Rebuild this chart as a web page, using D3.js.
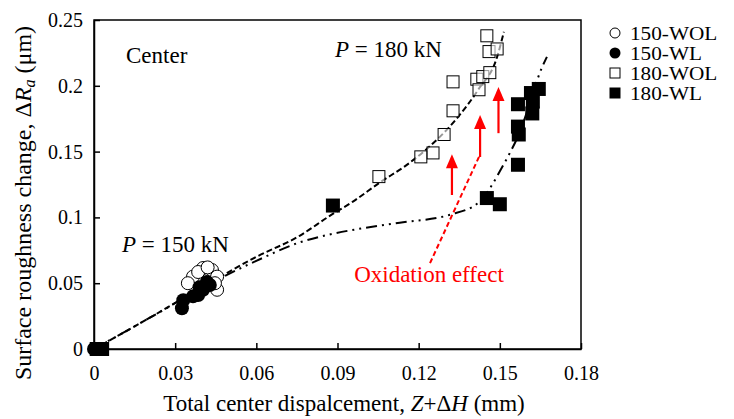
<!DOCTYPE html>
<html><head><meta charset="utf-8">
<script src="https://cdn.jsdelivr.net/npm/d3@7"></script>
<style>body{margin:0;background:#fff}svg{display:block}text{font-family:"Liberation Serif","Times New Roman",serif}</style>
</head><body><svg id="c" width="734" height="419"></svg>
<script>
const xTicks=[0,0.03,0.06,0.09,0.12,0.15,0.18];
const yTicks=[0,0.05,0.1,0.15,0.2,0.25];
const yTickLabels=["0","0.05","0.1","0.15","0.2","0.25"];
const seriesNames=["150-WOL","150-WL","180-WOL","180-WL"];
const wol150=[[0.0366,0.055],[0.0403,0.0615],[0.0436,0.060],[0.0455,0.055],[0.0347,0.050],[0.0455,0.045],[0.0447,0.050],[0.0385,0.0585],[0.042,0.062],[0.001,0],[0.002,0]];
const wl150=[[0.0325,0.031],[0.033,0.037],[0.0366,0.040],[0.039,0.047],[0.0417,0.051],[0.0403,0.045],[0.0428,0.0486],[0.0385,0.041],[0,0],[0.002,0]];
const wol180=[[0.1452,0.238],[0.146,0.226],[0.149,0.228],[0.1327,0.203],[0.1415,0.205],[0.1437,0.207],[0.1463,0.210],[0.1423,0.197],[0.1327,0.181],[0.1294,0.163],[0.1253,0.149],[0.1208,0.146],[0.1053,0.131],[0.001,0],[0.003,0]];
const wl180=[[0.1567,0.186],[0.1615,0.1945],[0.1644,0.1976],[0.1622,0.188],[0.162,0.179],[0.1567,0.169],[0.157,0.163],[0.1567,0.140],[0.1452,0.1147],[0.150,0.110],[0.0883,0.109],[0.001,0],[0.003,0]];
const fitWOL180=[[0,0],[0.02,0.023],[0.04,0.047],[0.06,0.07],[0.076,0.086],[0.087,0.101],[0.0957,0.112],[0.106,0.127],[0.115,0.139],[0.123,0.152],[0.134,0.175],[0.142,0.197],[0.149,0.222],[0.1515,0.241]];
const fitWL180=[[0,0],[0.02,0.023],[0.044,0.051],[0.06,0.067],[0.076,0.081],[0.087,0.087],[0.1,0.092],[0.113,0.096],[0.1316,0.102],[0.1426,0.112],[0.1463,0.122],[0.150,0.135],[0.1537,0.149],[0.157,0.163],[0.161,0.186],[0.1648,0.210],[0.1674,0.222]];
const oxLine=[[0.1242,0.0653],[0.1423,0.146]];
const arrows=[[0.1323,0.117,0.148],[0.1427,0.1459,0.1778],[0.1495,0.164,0.199]];

const svg=d3.select("#c");
const L=94,R=581,T=20,B=349;
const x=d3.scaleLinear().domain([0,0.18]).range([L,R]);
const y=d3.scaleLinear().domain([0,0.25]).range([B,T]);

svg.append("rect").attr("x",L).attr("y",T).attr("width",R-L).attr("height",B-T).attr("fill","none").attr("stroke","#000").attr("stroke-width",1.5);

const xa=svg.append("g").attr("transform",`translate(0,${B})`)
 .call(d3.axisBottom(x).tickValues(xTicks).tickFormat(d=>d===0?"0":d3.format(".2f")(d)).tickSizeInner(-6).tickSizeOuter(0).tickPadding(17));
const ya=svg.append("g").attr("transform",`translate(${L},0)`)
 .call(d3.axisLeft(y).tickValues(yTicks).tickFormat((d,i)=>yTickLabels[i]).tickSizeInner(-6).tickSizeOuter(0).tickPadding(11));
[xa,ya].forEach(a=>{a.select(".domain").attr("stroke-width",1.5);a.selectAll("line").attr("stroke-width",1.5);a.selectAll("text").attr("font-size",20).attr("fill","#000").style("font-family",'"Liberation Serif",serif');});

const line=d3.line().x(d=>x(d[0])).y(d=>y(d[1])).curve(d3.curveMonotoneX);
svg.append("path").attr("d",line(fitWOL180)).attr("fill","none").attr("stroke","#000").attr("stroke-width",2).attr("stroke-dasharray","6,3");
svg.append("path").attr("d",line(fitWL180)).attr("fill","none").attr("stroke","#000").attr("stroke-width",2).attr("stroke-dasharray","11,5,2,5,2,5");

const sq=12;
svg.append("g").selectAll("rect").data(wol180).join("rect")
 .attr("x",d=>x(d[0])-sq/2).attr("y",d=>y(d[1])-sq/2).attr("width",sq).attr("height",sq)
 .attr("fill","#fff").attr("fill-opacity",0.6).attr("stroke","#000").attr("stroke-width",1);
svg.append("g").selectAll("circle").data(wol150).join("circle")
 .attr("cx",d=>x(d[0])).attr("cy",d=>y(d[1])).attr("r",6.5).attr("fill","#fff").attr("stroke","#000").attr("stroke-width",1);
svg.append("g").selectAll("circle").data(wl150).join("circle")
 .attr("cx",d=>x(d[0])).attr("cy",d=>y(d[1])).attr("r",7).attr("fill","#000");
svg.append("g").selectAll("rect").data(wl180).join("rect")
 .attr("x",d=>x(d[0])-7).attr("y",d=>y(d[1])-7).attr("width",14).attr("height",14).attr("fill","#000");

svg.append("path").attr("d",d3.line().x(d=>x(d[0])).y(d=>y(d[1]))(oxLine)).attr("stroke","#f00").attr("stroke-width",2).attr("stroke-dasharray","5,3").attr("fill","none");
const ag=svg.append("g");
arrows.forEach(a=>{
  const ax=x(a[0]),y0=y(a[1]),y1=y(a[2]);
  ag.append("line").attr("x1",ax).attr("x2",ax).attr("y1",y0).attr("y2",y1+12).attr("stroke","#f00").attr("stroke-width",2.2);
  ag.append("path").attr("d",`M${ax},${y1}L${ax-6},${y1+14}L${ax+6},${y1+14}Z`).attr("fill","#f00");
});
svg.append("text").attr("x",429).attr("y",282).attr("text-anchor","middle").attr("font-size",23).attr("fill","#f00").text("Oxidation effect");

svg.append("text").attr("x",126).attr("y",63).attr("font-size",23).text("Center");
function pLabel(xp,yp,val){
  const t=svg.append("text").attr("x",xp).attr("y",yp).attr("font-size",23);
  t.append("tspan").attr("font-style","italic").text("P");
  t.append("tspan").text(" = "+val+" kN");
}
pLabel(335,57,"180");
pLabel(122,252,"150");

const xt=svg.append("text").attr("x",344).attr("y",411).attr("text-anchor","middle").attr("font-size",23);
xt.append("tspan").text("Total center dispalcement, ");
xt.append("tspan").attr("font-style","italic").text("Z");
xt.append("tspan").text("+Δ");
xt.append("tspan").attr("font-style","italic").text("H");
xt.append("tspan").text(" (mm)");
const yt=svg.append("text").attr("transform","translate(31,203) rotate(-90)").attr("text-anchor","middle").attr("font-size",24);
yt.append("tspan").text("Surface roughness change, Δ");
yt.append("tspan").attr("font-style","italic").text("R");
yt.append("tspan").attr("font-style","italic").attr("font-size",16).attr("dy",4).text("a");
yt.append("tspan").attr("dy",-4).text(" (μm)");

const lg=svg.append("g");
const rows=[33,53,73,93];
seriesNames.forEach((n,i)=>{
  const cy=rows[i],cx=615;
  if(i===0) lg.append("circle").attr("cx",cx).attr("cy",cy).attr("r",5).attr("fill","#fff").attr("stroke","#000");
  if(i===1) lg.append("circle").attr("cx",cx).attr("cy",cy).attr("r",5.5).attr("fill","#000");
  if(i===2) lg.append("rect").attr("x",cx-5).attr("y",cy-5).attr("width",10).attr("height",10).attr("fill","#fff").attr("stroke","#000");
  if(i===3) lg.append("rect").attr("x",cx-5.5).attr("y",cy-5.5).attr("width",11).attr("height",11).attr("fill","#000");
  const t=lg.append("text").attr("x",630).attr("y",cy+6.5).attr("font-size",18).text(n);
  const w=t.node().getComputedTextLength();
  t.attr("textLength",w*1.18).attr("lengthAdjust","spacingAndGlyphs");
});
</script></body></html>
